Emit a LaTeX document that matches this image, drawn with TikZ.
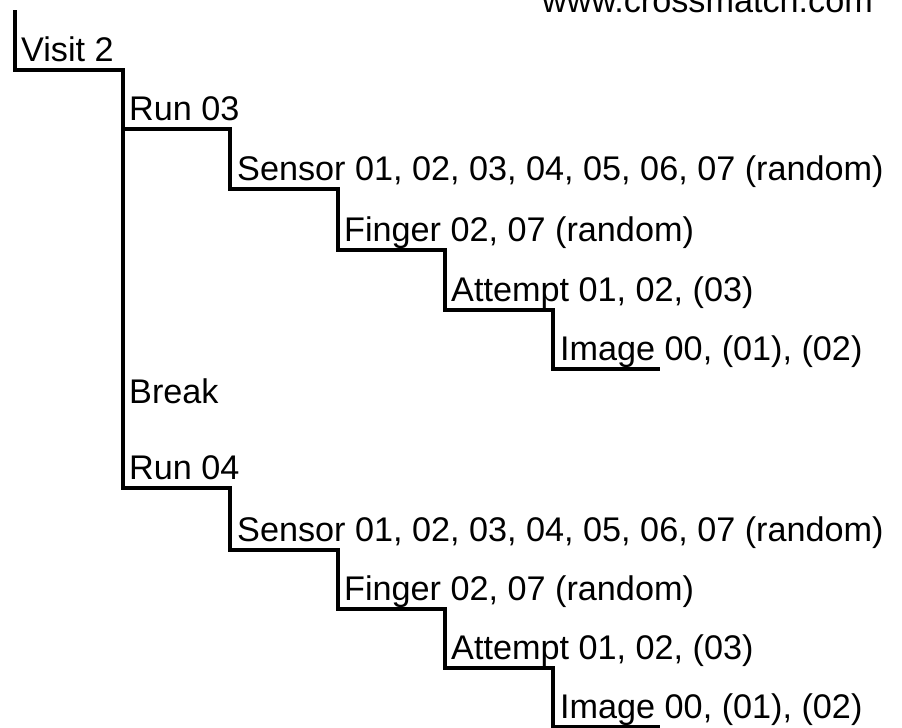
\documentclass[tikz,border=0pt]{standalone}
\usepackage{fontspec}
\setmainfont{Liberation Sans}
\begin{document}
\begin{tikzpicture}[x=1pt,y=-1pt,
  lbl/.style={anchor=base west,inner sep=0pt,font=\fontsize{34.2}{40}\selectfont},
  stepline/.style={line width=4.4pt,line join=miter,black}]
\useasboundingbox (0,0) rectangle (902,728);
% labels
\node[lbl,anchor=base east] (web) at (873,12.5) {www.crossmatch.com};
\node[lbl] (visit) at (21,61) {Visit 2};
\node[lbl] (runA) at (129,120) {Run 03};
\node[lbl] (sensA) at (237,180) {Sensor 01, 02, 03, 04, 05, 06, 07 (random)};
\node[lbl] (fingA) at (344,241) {Finger 02, 07 (random)};
\node[lbl] (attA) at (451,301) {Attempt 01, 02, (03)};
\node[lbl] (imgA) at (560,360) {Image 00, (01), (02)};
\node[lbl] (brk) at (129,403) {Break};
\node[lbl] (runB) at (129,479) {Run 04};
\node[lbl] (sensB) at (237,541) {Sensor 01, 02, 03, 04, 05, 06, 07 (random)};
\node[lbl] (fingB) at (344,600) {Finger 02, 07 (random)};
\node[lbl] (attB) at (451,659) {Attempt 01, 02, (03)};
\node[lbl] (imgB) at (560,718) {Image 00, (01), (02)};
% corner coordinates
\coordinate (v0) at (15,10);
\coordinate (v1) at (15,70);
\coordinate (m0) at (123,70);
\coordinate (mA) at (123,129);
\coordinate (mB) at (123,488);
\coordinate (sA) at (230,129);
\coordinate (sA2) at (230,189);
\coordinate (fA) at (338,189);
\coordinate (fA2) at (338,250);
\coordinate (aA) at (445,250);
\coordinate (aA2) at (445,310);
\coordinate (iA) at (553,310);
\coordinate (iA2) at (553,369);
\coordinate (eA) at (660,369);
\coordinate (sB) at (230,488);
\coordinate (sB2) at (230,550);
\coordinate (fB) at (338,550);
\coordinate (fB2) at (338,609);
\coordinate (aB) at (445,609);
\coordinate (aB2) at (445,668);
\coordinate (iB) at (553,668);
\coordinate (iB2) at (553,727);
\coordinate (eB) at (660,727);
% step lines
\draw[stepline] (v0) -- (v1) -- (m0) -- (mB) -- (sB) -- (sB2) -- (fB) -- (fB2) -- (aB) -- (aB2) -- (iB) -- (iB2) -- (eB);
\draw[stepline] (mA) -- (sA) -- (sA2) -- (fA) -- (fA2) -- (aA) -- (aA2) -- (iA) -- (iA2) -- (eA);
\end{tikzpicture}
\end{document}
